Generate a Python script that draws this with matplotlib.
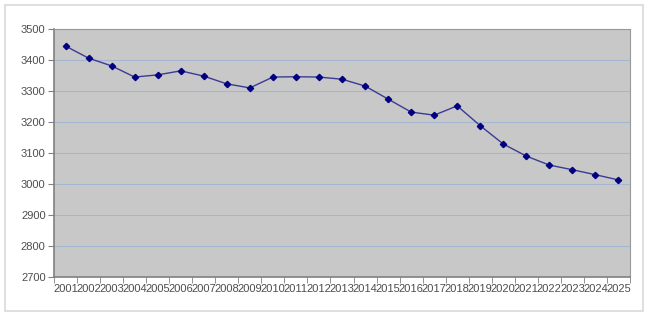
import matplotlib.pyplot as plt
from matplotlib.patches import Rectangle

# data
years = [str(y) for y in range(2001, 2026)]
values = [3445, 3406, 3381, 3345, 3352, 3365, 3348, 3323, 3310, 3345,
          3346, 3345, 3338, 3316, 3274, 3232, 3222, 3252, 3188, 3129,
          3090, 3061, 3046, 3030, 3013]
y_ticks = [2700, 2800, 2900, 3000, 3100, 3200, 3300, 3400, 3500]

plt.rcParams["font.family"] = ["Liberation Sans", "DejaVu Sans"]

fig = plt.figure(figsize=(6.5, 3.17), dpi=100)
W, H = 650, 317

# outer chart frame
fig.patches.append(Rectangle((5 / W, 1 - 311 / H), 638 / W, 306 / H,
                             transform=fig.transFigure, fill=False,
                             edgecolor="#d9d9d9", linewidth=1.2))

ax = fig.add_axes([54 / W, 1 - 277 / H, 576 / W, 248 / H])
ax.set_facecolor("#c8c8c8")

x = list(range(len(years)))
ax.plot(x, values, color="#3a3a96", linewidth=1.0, marker="D",
        markersize=3.2, markerfacecolor="#000080", markeredgecolor="#000080",
        zorder=3)

ax.set_xlim(-0.5, len(years) - 0.5)
ax.set_ylim(2700, 3500)
ax.set_yticks(y_ticks)
ax.set_yticklabels([str(v) for v in y_ticks], fontsize=8, color="#4d4d4d")
ax.yaxis.grid(True, color="#a3b6d2", linewidth=0.8)
ax.set_axisbelow(True)

# category labels centred, tick marks between categories
ax.set_xticks(x)
ax.set_xticklabels(years, fontsize=8, color="#4d4d4d")
ax.tick_params(axis="x", which="major", length=0, pad=5)
ax.set_xticks([i - 0.5 for i in range(len(years) + 1)], minor=True)
ax.tick_params(axis="x", which="minor", length=4, color="#808080")
ax.tick_params(axis="y", length=4, color="#808080", pad=2)

for side in ["left", "bottom"]:
    ax.spines[side].set_color("#808080")
    ax.spines[side].set_linewidth(1.2)
for side in ["top", "right"]:
    ax.spines[side].set_color("#999999")
    ax.spines[side].set_linewidth(0.8)

plt.savefig("out.png", dpi=100)
